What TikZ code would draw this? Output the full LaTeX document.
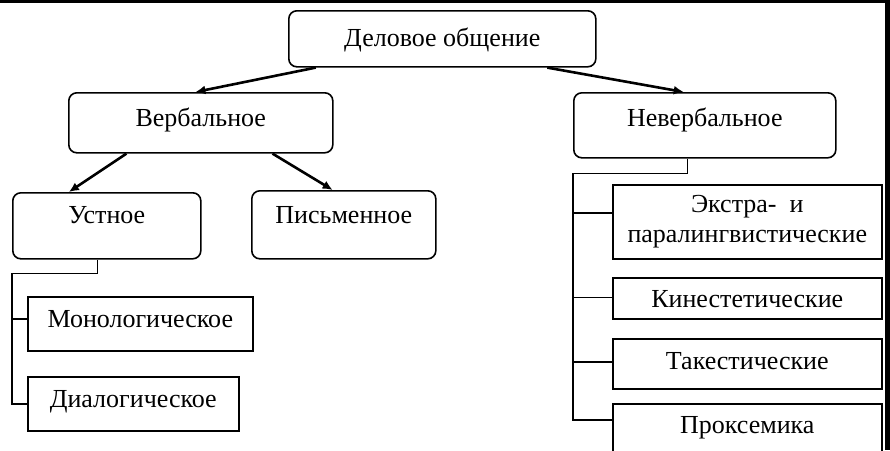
\documentclass[tikz,border=0pt]{standalone}
\usepackage{fontspec}
\setmainfont{Liberation Serif}
\usepackage{tikz}
\usetikzlibrary{arrows.meta, calc, positioning}
\newcommand{\boxfont}{\fontsize{26}{30}\selectfont}

\begin{document}
\begin{tikzpicture}[x=1pt, y=1pt,
    rbox/.style={draw, line width=1.6pt, rounded corners=8pt, inner xsep=0pt, inner ysep=0pt, anchor=north west, font=\boxfont, align=center},
    sbox/.style={draw, line width=1.6pt, inner xsep=0pt, inner ysep=0pt, anchor=north west, font=\boxfont, align=center},
    arr/.style={line width=2.6pt, -{Latex[length=10pt, width=9pt]}},
    link/.style={line width=1.6pt}]
    \useasboundingbox (0,0) rectangle (890,-450);
    % frame
    \draw[line width=3pt] (0,-1.5) -- (890,-1.5);
    \draw[line width=5pt] (887.5,0) -- (887.5,-450);

    % boxes
    \node[rbox, minimum width=307pt, text height=36pt, text depth=20pt] (top) at (288,-10) {Деловое общение};
    \node[rbox, minimum width=264pt, text height=34pt, text depth=26pt] (verb) at (68,-92) {Вербальное};
    \node[rbox, minimum width=262pt, text height=34pt, text depth=31pt] (neverb) at (573,-92) {Невербальное};
    \node[rbox, minimum width=188pt, text height=31pt, text depth=35pt] (ustn) at (12,-192) {Устное};
    \node[rbox, minimum width=184pt, text height=33pt, text depth=35pt] (pism) at (251,-190) {Письменное};
    \node[sbox, minimum width=225pt, text height=31pt, text depth=23pt] (mono) at (27,-296) {Монологическое};
    \node[sbox, minimum width=211pt, text height=31pt, text depth=23pt] (dial) at (27,-376) {Диалогическое};
    \node[sbox, minimum width=269pt, minimum height=74pt] (ekstra) at (612,-184) {Экстра-\enspace и\\паралингвистические};
    \node[sbox, minimum width=269pt, text height=30pt, text depth=11pt] (kin) at (612,-277) {Кинестетические};
    \node[sbox, minimum width=269pt, text height=31pt, text depth=19pt] (tak) at (612,-338) {Такестические};
    \node[sbox, minimum width=269pt, text height=30pt, text depth=40pt] (prok) at (612,-403) {Проксемика};

    % arrows
    \draw[arr] ($(top.south west)!0.09!(top.south east)$) -- ($(verb.north west)!0.48!(verb.north east)$);
    \draw[arr] ($(top.south west)!0.84!(top.south east)$) -- ($(neverb.north west)!0.42!(neverb.north east)$);
    \draw[arr] ($(verb.south west)!0.22!(verb.south east)$) -- ($(ustn.north west)!0.30!(ustn.north east)$);
    \draw[arr] ($(verb.south west)!0.77!(verb.south east)$) -- ($(pism.north west)!0.44!(pism.north east)$);

    % tree under Устное
    \coordinate (uo) at ($(ustn.south west)!0.45!(ustn.south east)$);
    \draw[link] (uo) -- ++(0,-14) -| (ustn.west |- dial.west) -- (dial.west);
    \draw[link] ($(ustn.west |- mono.west)+(0,5)$) -- ($(mono.west)+(0,5)$);

    % tree under Невербальное
    \coordinate (nv) at ($(neverb.south west)!0.435!(neverb.south east)$);
    \draw[link] (nv) -- ++(0,-15) -| ($(neverb.west |- prok.north)+(0,-17)$) -- ($(prok.north west)+(0,-17)$);
    \foreach \b/\d in {ekstra/9, kin/1, tak/2}
        \draw[link] ($(neverb.west |- \b.west)+(0,\d)$) -- ($(\b.west)+(0,\d)$);
\end{tikzpicture}
\end{document}
